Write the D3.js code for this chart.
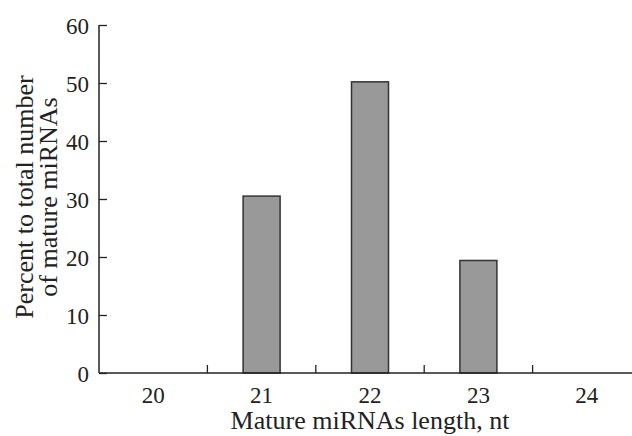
<!doctype html>
<html>
<head>
<script src="https://d3js.org/d3.v7.min.js"></script>
<style>
body { margin: 0; background: white; }
text { font-family: "Liberation Serif", "Times New Roman", serif; fill: #222; }
</style>
</head>
<body>
<svg width="632" height="436" class="chart"></svg>
<script>
var lengths = ["20", "21", "22", "23", "24"];
var percents = [0, 30.5, 50.2, 19.4, 0];
var yTicks = [0, 10, 20, 30, 40, 50, 60];

var svg = d3.select(".chart");
var plotLeft = 99, plotTop = 25, plotBottom = 373, plotRight = 641;

var x = d3.scaleBand().domain(lengths).range([plotLeft, plotRight]);
var y = d3.scaleLinear().domain([0, 60]).range([plotBottom, plotTop]);

// bars
svg.append("g").selectAll("rect")
  .data(lengths.map(function(d, i) { return [d, percents[i]]; }).filter(function(d) { return d[1] > 0; }))
  .enter().append("rect")
  .attr("x", function(d) { return x(d[0]) + x.bandwidth() / 2 - 18.5; })
  .attr("y", function(d) { return y(d[1]); })
  .attr("width", 37)
  .attr("height", function(d) { return plotBottom - y(d[1]); })
  .style("fill", "#999")
  .style("stroke", "#333")
  .style("stroke-width", 1.5);

// y axis
var yAxis = svg.append("g")
  .attr("transform", "translate(" + plotLeft + ",0)")
  .call(d3.axisLeft(y).tickValues(yTicks).tickSizeInner(-8).tickSizeOuter(0).tickPadding(10));
yAxis.select(".domain").attr("stroke", "#222").attr("stroke-width", 1.5).attr("d", "M0," + plotTop + "V" + plotBottom);
yAxis.selectAll(".tick line").attr("stroke", "#222").attr("stroke-width", 1.3);
yAxis.selectAll("text").style("font-size", "23px").style("font-family", "Liberation Serif, serif").attr("fill", "#222").attr("dy", "0.35em");

// x axis with ticks between categories
var xAxis = svg.append("g")
  .attr("transform", "translate(0," + plotBottom + ")");
xAxis.append("path").attr("d", "M" + plotLeft + ",0H632").attr("stroke", "#222").attr("stroke-width", 1.5);
xAxis.selectAll("line")
  .data(lengths.slice(1))
  .enter().append("line")
  .attr("x1", function(d) { return x(d); })
  .attr("x2", function(d) { return x(d); })
  .attr("y1", 0).attr("y2", -8)
  .attr("stroke", "#222").attr("stroke-width", 1.3);
xAxis.selectAll("text")
  .data(lengths)
  .enter().append("text")
  .attr("x", function(d) { return x(d) + x.bandwidth() / 2; })
  .attr("y", 30)
  .attr("text-anchor", "middle")
  .style("font-size", "23px")
  .text(function(d) { return d; });

// axis titles
svg.append("text")
  .attr("x", 370).attr("y", 429)
  .attr("text-anchor", "middle")
  .style("font-size", "26px")
  .text("Mature miRNAs length, nt");

var yt = svg.append("text")
  .attr("transform", "translate(0,197) rotate(-90)")
  .attr("text-anchor", "middle")
  .style("font-size", "26px");
yt.append("tspan").attr("x", 0).attr("y", 33).text("Percent to total number");
yt.append("tspan").attr("x", 0).attr("y", 57).text("of mature miRNAs");
</script>
</body>
</html>
